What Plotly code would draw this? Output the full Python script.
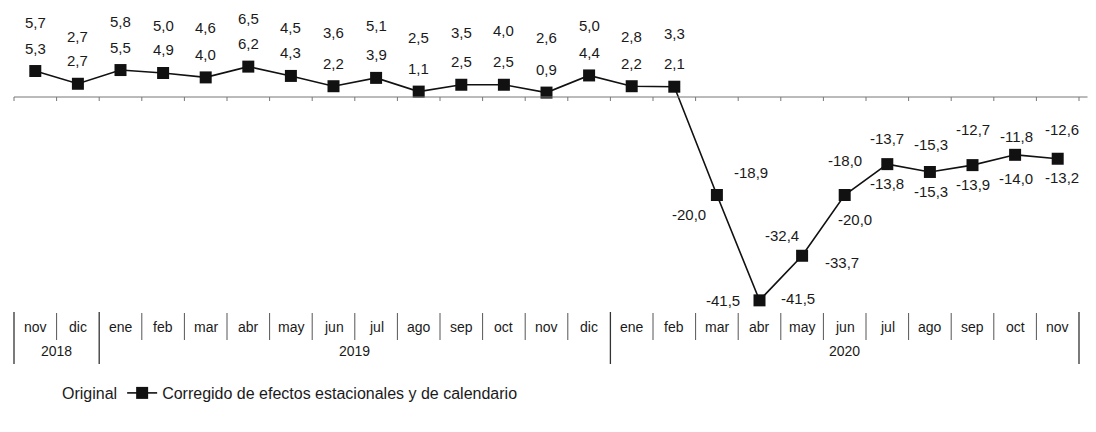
import plotly.graph_objects as go

# ---------------- data ----------------
meses = ["nov", "dic", "ene", "feb", "mar", "abr", "may", "jun", "jul", "ago", "sep", "oct",
         "nov", "dic", "ene", "feb", "mar", "abr", "may", "jun", "jul", "ago", "sep", "oct", "nov"]
anios = ["2018", "2019", "2020"]
anio_inicio = [0, 2, 14]          # category index where each year starts
anio_fin = [1, 13, 24]            # category index where each year ends

original = [5.7, 2.7, 5.8, 5.0, 4.6, 6.5, 4.5, 3.6, 5.1, 2.5, 3.5, 4.0, 2.6, 5.0, 2.8, 3.3,
            -18.9, -41.5, -33.7, -18.0, -13.8, -15.3, -12.7, -14.0, -13.2]
corregido = [5.3, 2.7, 5.5, 4.9, 4.0, 6.2, 4.3, 2.2, 3.9, 1.1, 2.5, 2.5, 0.9, 4.4, 2.2, 2.1,
             -20.0, -41.5, -32.4, -20.0, -13.7, -15.3, -13.9, -11.8, -12.6]

# ---------------- geometry / style ----------------
W, H = 1096, 432
PAGE_OFF = 8                      # page body margin offsets the figure by 8 px
PX_PER_CAT = 42.6
X_LEFT_PX = 14.0 - PAGE_OFF
ZERO_PX = 97.0 - PAGE_OFF
PX_PER_UNIT = 4.9

n = len(meses)
xs = list(range(n))
x0 = -0.5 - X_LEFT_PX / PX_PER_CAT
x1 = x0 + W / PX_PER_CAT
y_top = ZERO_PX / PX_PER_UNIT
y_bot = -(H - ZERO_PX) / PX_PER_UNIT


def py(page_pix):
    """page pixel row -> data y"""
    return (ZERO_PX - (page_pix - PAGE_OFF)) / PX_PER_UNIT


def fmt(v):
    return f"{v:.1f}".replace(".", ",")


LABEL_FONT = dict(family="Liberation Sans, Arial", size=15, color="#1a1a1a")
TABLE_FONT = dict(family="Liberation Sans, Arial", size=14, color="#1a1a1a")
INK = "#111111"
AXIS = "#777777"

# label offsets (dx, dy in px, dy positive = up) for the 2020 crisis stretch,
# relative to the plotted marker
offsets_2020 = {
    16: ((34, 23), (-28, -19)),
    17: ((38, 2), (-37, 0)),
    18: ((40, -7), (-20, 20)),
    19: ((0, 35), (10, -24)),
    20: ((0, -19), (0, 26)),
    21: ((1, 27), (1, -20)),
    22: ((0, 36), (0, -19)),
    23: ((1, -24), (1, 18)),
    24: ((4, -19), (4, 29)),
}

fig = go.Figure()

fig.add_trace(go.Scatter(
    x=xs, y=original, mode="lines", name="Original",
    line=dict(color="rgba(0,0,0,0)", width=2), hoverinfo="skip",
))
fig.add_trace(go.Scatter(
    x=xs, y=corregido, mode="lines+markers",
    name="Corregido de efectos estacionales y de calendario",
    line=dict(color=INK, width=1.6),
    marker=dict(symbol="square", size=12, color=INK),
))

ann = []
for i in xs:
    if i in offsets_2020:
        (odx, ody), (cdx, cdy) = offsets_2020[i]
        ann.append(dict(x=i, y=corregido[i], text=fmt(original[i]), xshift=odx, yshift=ody))
        ann.append(dict(x=i, y=corregido[i], text=fmt(corregido[i]), xshift=cdx, yshift=cdy))
    else:
        ann.append(dict(x=i, y=original[i], text=fmt(original[i]), yshift=47))
        ann.append(dict(x=i, y=corregido[i], text=fmt(corregido[i]), yshift=23))
for a in ann:
    a.update(showarrow=False, font=LABEL_FONT, xanchor="center", yanchor="middle",
             xref="x", yref="y")

# month / year table (page pixel rows)
MONTH_ROW = 327
YEAR_ROW = 351
for i, m in enumerate(meses):
    ann.append(dict(x=i, y=py(MONTH_ROW), text=m, showarrow=False, font=TABLE_FONT,
                    xanchor="center", yanchor="middle"))
for a_txt, s, e in zip(anios, anio_inicio, anio_fin):
    ann.append(dict(x=(s + e) / 2, y=py(YEAR_ROW), text=a_txt, showarrow=False, font=TABLE_FONT,
                    xanchor="center", yanchor="middle"))

shapes = []
# zero axis and ticks
shapes.append(dict(type="line", x0=-0.5, x1=n - 0.3, y0=0, y1=0,
                   line=dict(color=AXIS, width=1)))
for k in range(n + 1):
    shapes.append(dict(type="line", x0=k - 0.5, x1=k - 0.5, y0=0, y1=-4 / PX_PER_UNIT,
                       line=dict(color=AXIS, width=1)))
# table separators
year_edges = set(anio_inicio + [n])
for k in range(n + 1):
    if k in year_edges:
        shapes.append(dict(type="line", x0=k - 0.5, x1=k - 0.5, y0=py(312), y1=py(364),
                           line=dict(color="#333333", width=1.3)))
    else:
        shapes.append(dict(type="line", x0=k - 0.5, x1=k - 0.5, y0=py(313), y1=py(340),
                           line=dict(color="#555555", width=1)))

fig.update_layout(
    width=W, height=H,
    margin=dict(l=0, r=0, t=0, b=0),
    paper_bgcolor="white", plot_bgcolor="white",
    xaxis=dict(range=[x0, x1], visible=False, fixedrange=True),
    yaxis=dict(range=[y_bot, y_top], visible=False, fixedrange=True),
    annotations=ann,
    shapes=shapes,
    showlegend=True,
    legend=dict(orientation="h", x=(22 - PAGE_OFF) / W, y=1 - (393 - PAGE_OFF) / H,
                xanchor="left", yanchor="middle",
                font=dict(family="Liberation Sans, Arial", size=16, color="#1a1a1a"),
                bgcolor="rgba(0,0,0,0)", itemwidth=30),
)

fig.write_html("out.html")
